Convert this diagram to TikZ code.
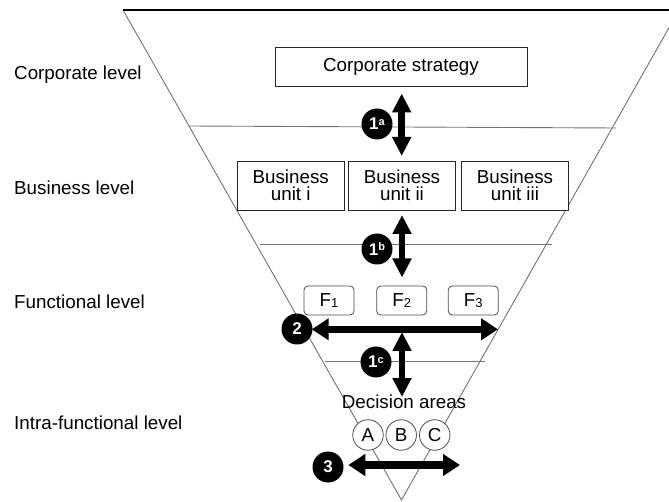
\documentclass[tikz,border=0pt]{standalone}
\usepackage{fontspec}
\setmainfont{Liberation Sans}
\usetikzlibrary{arrows.meta}
\newcommand{\mainsz}{\fontsize{18.8}{17}\selectfont}
\newcommand{\subsc}[1]{\raisebox{-1.5pt}{\fontsize{13}{13}\selectfont #1}}
\newcommand{\supsc}[1]{\raisebox{4.5pt}{\fontsize{11}{11}\selectfont\bfseries #1}}
\begin{document}
\begin{tikzpicture}[x=1pt,y=-1pt,
  lbl/.style={anchor=base west, inner sep=0pt, font=\mainsz},
  edge/.style={draw=black!60, line width=0.8pt},
  level/.style={draw=black!55, line width=0.9pt},
  corpbox/.style={draw=black!85, line width=0.8pt, fill=white, minimum width=252pt, minimum height=39pt, inner sep=0pt, font=\mainsz},
  bubox/.style={draw=black!85, line width=0.8pt, fill=white, minimum width=107pt, minimum height=49pt, inner sep=0pt, align=center, font=\mainsz},
  fbox/.style={draw=black!70, line width=0.8pt, fill=white, rounded corners=4pt, minimum width=50pt, minimum height=29pt, inner sep=0pt, font=\mainsz},
  dcirc/.style={circle, draw=black!70, line width=0.8pt, fill=white, minimum size=30.5pt, inner sep=0pt, font=\mainsz},
  num/.style={circle, fill=black, minimum size=31pt, inner sep=0pt, text=white, font=\fontsize{17}{17}\selectfont\bfseries},
  varr/.style={line width=6.5pt, {Triangle[length=19pt,width=18pt]}-{Triangle[length=19pt,width=18pt]}},
  harr/.style={line width=7.5pt, {Triangle[length=17pt,width=21pt]}-{Triangle[length=17pt,width=21pt]}}
]
\useasboundingbox (0,0) rectangle (669,502);

% funnel
\coordinate (tl) at (123,10);
\coordinate (tr) at (679,10);
\coordinate (ap) at (401.5,500);
\draw[edge] (tl) -- (ap) -- (tr);
\draw[black, line width=1.2pt] (tl) -- (tr);

% level separators
\coordinate (l1a) at (189,126); \coordinate (l1b) at (616,128);
\coordinate (l2a) at (260,244); \coordinate (l2b) at (552,244);
\coordinate (l3a) at (325,361); \coordinate (l3b) at (485,361);
\draw[level] (l1a) -- (l1b);
\draw[level] (l2a) -- (l2b);
\draw[level] (l3a) -- (l3b);

% level labels
\node[lbl] (corp) at (14,79.5) {Corporate level};
\node[lbl] (busl) at (14,194.5) {Business level};
\node[lbl] (func) at (14,309) {Functional level};
\node[lbl] (intra) at (14,429) {Intra-functional level};

% boxes
\node[corpbox] (cs) at (401,66.5) {Corporate strategy};
\node[bubox] (bu1) at (290.7,185.5) {Business\\unit i};
\node[bubox] (bu2) at (402,185.5) {Business\\unit ii};
\node[bubox] (bu3) at (515,185.5) {Business\\unit iii};
\node[fbox] (f1) at (329,300.5) {F\subsc{1}};
\node[fbox] (f2) at (401.7,300.5) {F\subsc{2}};
\node[fbox] (f3) at (473.3,300.5) {F\subsc{3}};

\node[font=\mainsz, inner sep=0pt] (da) at (404,402) {Decision areas};
\node[dcirc] (ca) at (368,435) {A};
\node[dcirc] (cb) at (401.2,435) {B};
\node[dcirc] (cc) at (434.7,435) {C};

% arrows
\coordinate (a1s) at (401.7,93.5); \coordinate (a1e) at (401.7,156);
\coordinate (b1s) at (402,215);  \coordinate (b1e) at (402,277.5);
\coordinate (c1s) at (402,332);  \coordinate (c1e) at (402,397);
\coordinate (h2s) at (311.7,329.3); \coordinate (h2e) at (498,329.3);
\coordinate (h3s) at (348.3,465); \coordinate (h3e) at (460,465);
\draw[varr] (a1s) -- (a1e);
\draw[varr] (b1s) -- (b1e);
\draw[varr] (c1s) -- (c1e);
\draw[harr] (h2s) -- (h2e);
\draw[harr] (h3s) -- (h3e);

% numbered markers
\node[num] (n1a) at (377,124) {1\supsc{a}};
\node[num] (n1b) at (377,249) {1\supsc{b}};
\node[num] (n1c) at (376,362) {1\supsc{c}};
\node[num] (n2) at (297,329) {2};
\node[num] (n3) at (328,467) {3};
\end{tikzpicture}
\end{document}
